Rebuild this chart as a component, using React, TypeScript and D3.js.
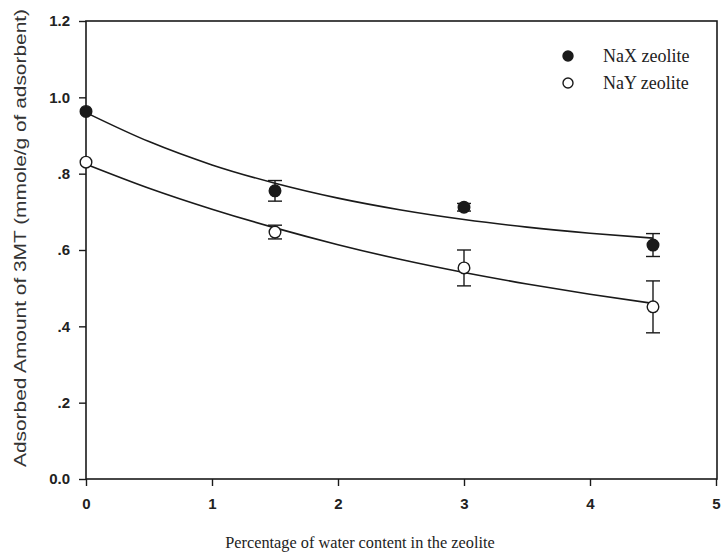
import React, { useEffect, useRef } from "react";
import * as d3 from "d3";

// measured points
const waterX = [0, 1.5, 3, 4.5];
const naxValues = [0.963, 0.755, 0.712, 0.613];
const naxErrors = [0, 0.027, 0.01, 0.03];
const nayValues = [0.83, 0.647, 0.553, 0.451];
const nayErrors = [0, 0.018, 0.047, 0.068];

// fitted curves
const curveX = [0, 0.5, 1, 1.5, 2, 2.5, 3, 3.5, 4, 4.5];
const naxCurve = [0.96, 0.884, 0.823, 0.775, 0.736, 0.705, 0.68, 0.66, 0.644, 0.631];
const nayCurve = [0.825, 0.762, 0.707, 0.658, 0.614, 0.575, 0.541, 0.511, 0.484, 0.46];

const xTicks = [0, 1, 2, 3, 4, 5];
const yTicks = [0, 0.2, 0.4, 0.6, 0.8, 1.0, 1.2];
const yTickLabels = ["0.0", ".2", ".4", ".6", ".8", "1.0", "1.2"];
const seriesNames = ["NaX zeolite", "NaY zeolite"];

const App = () => {
  const ref = useRef<SVGSVGElement>(null);

  useEffect(() => {
    const svg = d3.select(ref.current);
    svg.selectAll("*").remove();

    const ink = "#1a1a1a";
    const sans = "Liberation Sans, Arial, sans-serif";
    const serif = "Liberation Serif, Times New Roman, serif";
    const left = 86, right = 716, top = 21, bottom = 479;

    const x = d3.scaleLinear().domain([0, 5]).range([left, right]);
    const y = d3.scaleLinear().domain([0, 1.2]).range([bottom, top]);

    // frame
    svg.append("rect")
      .attr("x", left).attr("y", top)
      .attr("width", right - left + 1).attr("height", bottom - top)
      .attr("fill", "none").attr("stroke", ink).attr("stroke-width", 1.6);

    // x axis
    const xAxis = svg.append("g")
      .attr("transform", `translate(0,${bottom})`)
      .call(d3.axisBottom(x).tickValues(xTicks).tickSize(7).tickPadding(12)
        .tickFormat((d) => String(d)));
    xAxis.select(".domain").remove();
    xAxis.selectAll("line").attr("stroke", ink).attr("stroke-width", 1.4);
    xAxis.selectAll("text")
      .attr("font-family", sans)
      .attr("font-size", 15).attr("font-weight", "bold").attr("fill", "#222");

    // y axis
    const yAxis = svg.append("g")
      .attr("transform", `translate(${left},0)`)
      .call(d3.axisLeft(y).tickValues(yTicks).tickSize(7).tickPadding(9)
        .tickFormat((d, i) => yTickLabels[i]));
    yAxis.select(".domain").remove();
    yAxis.selectAll("line").attr("stroke", ink).attr("stroke-width", 1.4);
    yAxis.selectAll("text")
      .attr("font-family", sans)
      .attr("font-size", 15).attr("font-weight", "bold").attr("fill", "#222");

    // fit curves
    const line = d3.line<number>()
      .x((d, i) => x(curveX[i]))
      .y((d) => y(d))
      .curve(d3.curveMonotoneX);

    [naxCurve, nayCurve].forEach((c) => {
      svg.append("path")
        .attr("d", line(c))
        .attr("fill", "none").attr("stroke", ink).attr("stroke-width", 1.6);
    });

    // error bars + markers
    const series = [
      { vals: naxValues, errs: naxErrors, fill: ink },
      { vals: nayValues, errs: nayErrors, fill: "#fff" },
    ];
    series.forEach((s) => {
      const g = svg.append("g");
      s.vals.forEach((v, i) => {
        const e = s.errs[i];
        if (e <= 0) return;
        const cx = x(waterX[i]);
        g.append("line")
          .attr("x1", cx).attr("x2", cx)
          .attr("y1", y(v + e)).attr("y2", y(v - e))
          .attr("stroke", ink).attr("stroke-width", 1.4);
        [v + e, v - e].forEach((t) => {
          g.append("line")
            .attr("x1", cx - 7).attr("x2", cx + 7)
            .attr("y1", y(t)).attr("y2", y(t))
            .attr("stroke", ink).attr("stroke-width", 1.4);
        });
      });
      g.selectAll("circle")
        .data(s.vals)
        .join("circle")
        .attr("cx", (d, i) => x(waterX[i]))
        .attr("cy", (d) => y(d))
        .attr("r", 5.8)
        .attr("fill", s.fill)
        .attr("stroke", ink).attr("stroke-width", 1.4);
    });

    // legend
    const legend = svg.append("g");
    seriesNames.forEach((name, i) => {
      const ly = 56 + i * 27;
      legend.append("circle")
        .attr("cx", 568).attr("cy", ly).attr("r", 5)
        .attr("fill", i === 0 ? ink : "#fff")
        .attr("stroke", ink).attr("stroke-width", 1.4);
      legend.append("text")
        .attr("x", 603).attr("y", ly + 6)
        .attr("font-family", serif)
        .attr("font-size", 18).attr("fill", "#222")
        .text(name);
    });

    // axis titles
    svg.append("text")
      .attr("x", 360).attr("y", 548)
      .attr("text-anchor", "middle")
      .attr("font-family", serif)
      .attr("font-size", 16.3).attr("fill", "#222")
      .text("Percentage of water content in the zeolite");

    svg.append("text")
      .attr("transform", `translate(26,${238}) rotate(-90)`)
      .attr("text-anchor", "middle")
      .attr("font-family", sans)
      .attr("font-size", 17).attr("fill", "#333")
      .attr("textLength", 458).attr("lengthAdjust", "spacingAndGlyphs")
      .text("Adsorbed Amount of 3MT (mmole/g of adsorbent)");
  }, []);

  return (
    <svg
      ref={ref}
      width={722}
      height={555}
      style={{ position: "absolute", left: 0, top: 0, background: "#fff" }}
    ></svg>
  );
};

export default App;
